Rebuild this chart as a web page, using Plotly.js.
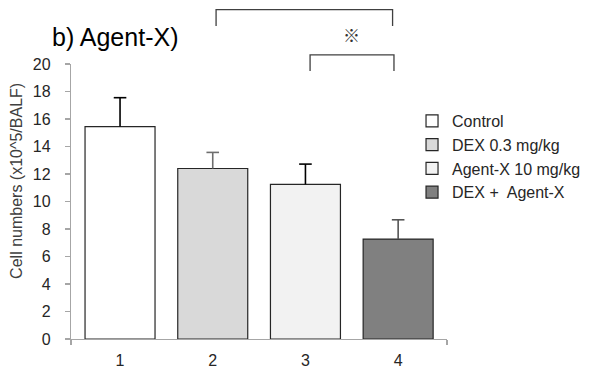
<!DOCTYPE html>
<html>
<head>
<meta charset="utf-8">
<script src="https://cdn.plot.ly/plotly-3.0.1.min.js"></script>
<style>html,body{margin:0;padding:0;background:#fff;}#chart{width:590px;height:371px;}</style>
</head>
<body>
<div id="chart"></div>
<script>
var groups = [1, 2, 3, 4];
var seriesNames = ["Control", "DEX 0.3 mg/kg", "Agent-X 10 mg/kg", "DEX +  Agent-X"];
var means = [15.45, 12.4, 11.25, 7.27];
var errors = [2.1, 1.17, 1.47, 1.4];
var tickLabels = ["1", "2", "3", "4"];
var yTicks = [0, 2, 4, 6, 8, 10, 12, 14, 16, 18, 20];

var fills = ["#ffffff", "#d9d9d9", "#f2f2f2", "#808080"];
var errColors = ["#000000", "#6e6e6e", "#000000", "#555555"];

var traces = groups.map(function (g, i) {
  return {
    type: "bar",
    x: [g],
    y: [means[i]],
    name: seriesNames[i],
    legendgroup: "g" + i,
    width: 0.755,
    marker: {color: fills[i], line: {color: "#262626", width: 1.2}},
    error_y: {type: "data", array: [errors[i]], symmetric: false, arrayminus: [0],
              visible: true, color: errColors[i], thickness: 1.6, width: 0},
    hoverinfo: "skip"
  };
});
// caps of the error bars (top only), placed at mean + error through the y axis
traces.push({
  type: "scatter", mode: "markers", showlegend: false, hoverinfo: "skip",
  x: groups,
  y: means.map(function (m, i) { return m + errors[i]; }),
  marker: {symbol: "line-ew", size: 9, color: errColors,
           line: {color: errColors, width: 1.6}},
  cliponaxis: false
});

var font = "Liberation Sans, Arial, sans-serif";
var layout = {
  width: 590, height: 371,
  margin: {l: 71, r: 143, t: 64, b: 32, pad: 0, autoexpand: false},
  paper_bgcolor: "#ffffff", plot_bgcolor: "#ffffff",
  barmode: "overlay",
  showlegend: true,
  font: {family: font, color: "#262626", size: 16},
  title: {text: "b) Agent-X)", xref: "container", yref: "container",
          x: 52 / 590, xanchor: "left", y: 1 - 37 / 371, yanchor: "middle",
          font: {family: font, size: 25, color: "#000000"}},
  xaxis: {type: "linear", range: [0.471, 4.527], tickmode: "array",
          tickvals: groups, ticktext: tickLabels, showgrid: false, zeroline: false,
          showline: true, linecolor: "#a6a6a6", linewidth: 1.2, ticks: "",
          ticklabelstandoff: 7,
          minor: {tickmode: "array", tickvals: [0.471, 4.527], ticks: "outside",
                  ticklen: 5, tickcolor: "#a6a6a6", tickwidth: 1.2, showgrid: false},
          tickfont: {size: 16, color: "#262626"}, fixedrange: true},
  yaxis: {range: [0, 20], tickmode: "array", tickvals: yTicks, showgrid: false,
          zeroline: false, showline: true, linecolor: "#a6a6a6", linewidth: 1.2,
          ticks: "outside", ticklen: 5, tickcolor: "#a6a6a6", tickwidth: 1.2,
          ticklabelstandoff: 11,
          tickfont: {size: 16, color: "#262626"}, fixedrange: true},
  legend: {x: 0.907, xanchor: "left", y: 0.855, yanchor: "top",
           traceorder: "grouped", tracegroupgap: 0,
           font: {family: font, size: 16, color: "#262626"},
           bgcolor: "rgba(0,0,0,0)", borderwidth: 0},
  shapes: [
    {type: "path", xref: "x", yref: "paper",
     path: "M2.036,1.138 L2.036,1.198 L3.94,1.198 L3.94,1.138",
     line: {color: "#404040", width: 1.3}},
    {type: "path", xref: "x", yref: "paper",
     path: "M3.05,0.975 L3.05,1.033 L3.955,1.033 L3.955,0.975",
     line: {color: "#404040", width: 1.3}}
  ],
  annotations: [
    {text: "※", xref: "x", yref: "paper", x: 3.5, y: 1.109, showarrow: false,
     xanchor: "center", yanchor: "middle",
     font: {family: "Noto Sans CJK JP", size: 17, color: "#333333"}},
    {text: "Cell numbers (x10^5/BALF)", xref: "paper", yref: "paper",
     x: (17 - 71) / 376, y: 0.575, textangle: -90, showarrow: false,
     xanchor: "center", yanchor: "middle",
     font: {family: font, size: 16, color: "#404040"}}
  ]
};

Plotly.newPlot("chart", traces, layout, {displayModeBar: false, staticPlot: true});
</script>
</body>
</html>
